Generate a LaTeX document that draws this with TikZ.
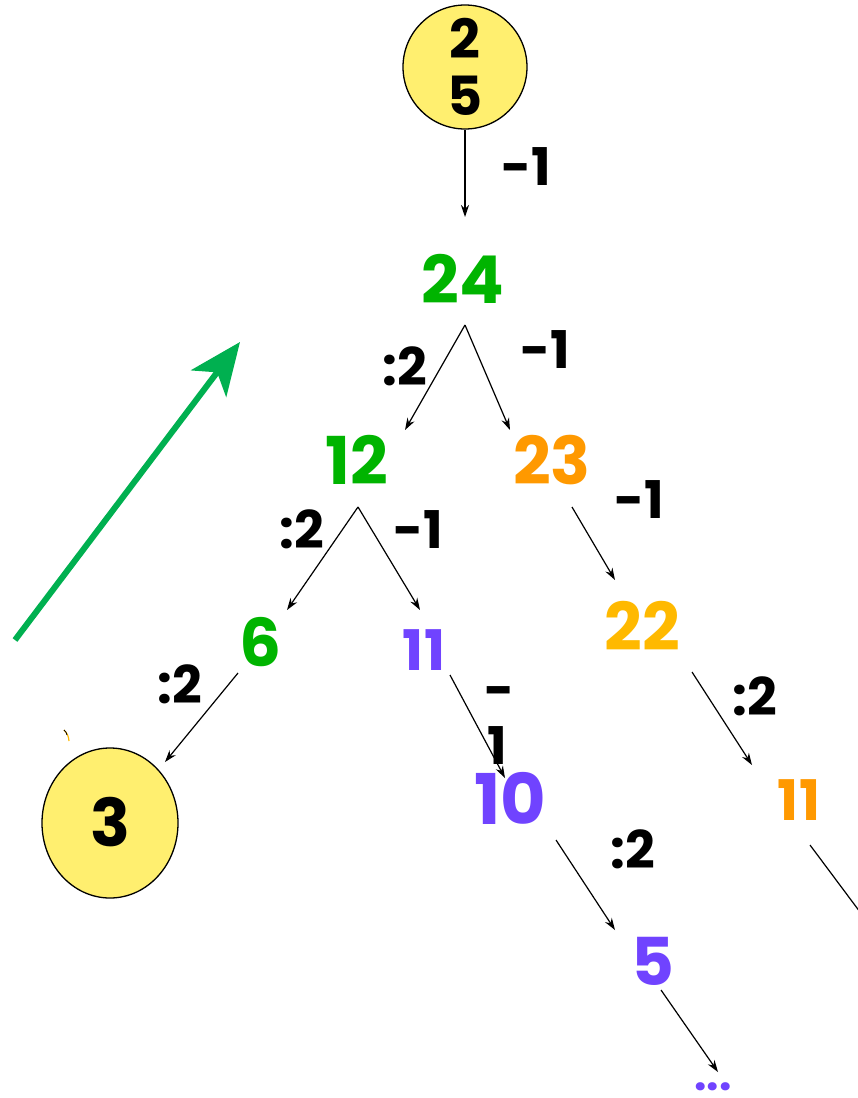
\documentclass[tikz,border=0pt]{standalone}
\usepackage{fontspec}
\setmainfont{Poppins}
\usetikzlibrary{arrows.meta,shapes.geometric}
\definecolor{cyel}{HTML}{FFEF6F}
\definecolor{cgrn}{HTML}{00B400}
\definecolor{corg}{HTML}{FF9900}
\definecolor{cgold}{HTML}{FFB900}
\definecolor{cpur}{HTML}{7043FF}
\definecolor{carr}{HTML}{00B050}
\begin{document}
\begin{tikzpicture}[x=1pt,y=-1pt,
  big/.style={font=\bfseries\fontsize{66}{66}\selectfont, inner sep=0pt, text height=47pt, text depth=0pt},
  mid/.style={font=\bfseries\fontsize{56}{56}\selectfont, inner sep=0pt, text height=40pt, text depth=0pt},
  lbl/.style={font=\bfseries\fontsize{52}{52}\selectfont, inner sep=0pt, text height=37pt, text depth=0pt},
  ball/.style={draw=black, line width=1.3pt, fill=cyel, inner sep=0pt},
  edge/.style={line width=1.2pt, -{Stealth[length=12pt,width=8pt]}},
  bare/.style={line width=1.2pt}]
\path[use as bounding box] (0,0) rectangle (858,1098);

% nodes
\node[ball, circle, minimum size=124pt, align=center,
      font=\bfseries\fontsize{54}{61}\selectfont] (n25) at (465,67) {2\\[-4pt]5};
\node[big, text=cgrn] (n24) at (463,280) {24};
\node[big, text=cgrn] (n12) at (357,461) {12};
\node[big, text=corg] (n23) at (552,461) {23};
\node[big, text=cgrn] (n6) at (261,643) {6};
\node[mid, text=cpur] (n11a) at (424,650) {11};
\node[big, text=cgold] (n22) at (642,627) {22};
\node[big, text=cpur, font=\bfseries\fontsize{70}{70}\selectfont, text height=50pt] (n10) at (510,799) {10};
\node[mid, text=corg] (n11b) at (799,800) {11};
\node[big, text=cpur] (n5) at (653,962) {5};
\node[font=\bfseries\fontsize{44}{44}\selectfont, text=cpur, inner sep=0pt, text height=6pt, text depth=0pt] (dots) at (713,1087) {...};
\node[ball, ellipse, minimum width=136pt, minimum height=150pt,
      font=\bfseries\fontsize{66}{66}\selectfont, text height=47pt, text depth=0pt] (n3) at (110,823) {3};

% edge end points
\coordinate (a0) at (465,130);  \coordinate (a1) at (465,217);
\coordinate (b0) at (465,325);  \coordinate (b1) at (405,430); \coordinate (b2) at (510,430);
\coordinate (c0) at (358,507);  \coordinate (c1) at (287,610); \coordinate (c2) at (420,610);
\coordinate (d0) at (572,507);  \coordinate (d1) at (615,580);
\coordinate (e0) at (238,673);  \coordinate (e1) at (165,762);
\coordinate (f0) at (450,675);  \coordinate (f1) at (505,778);
\coordinate (g0) at (692,672);  \coordinate (g1) at (752,765);
\coordinate (h0) at (556,840);  \coordinate (h1) at (615,930);
\coordinate (i0) at (661,990);  \coordinate (i1) at (718,1072);
\coordinate (j0) at (810,845);  \coordinate (j1) at (860,912);
\coordinate (k0) at (15,640);   \coordinate (k1) at (240,342);

% connectors
\draw[edge] (a0) -- (a1);
\draw[edge] (b0) -- (b1);
\draw[edge] (b0) -- (b2);
\draw[edge] (c0) -- (c1);
\draw[edge] (c0) -- (c2);
\draw[edge] (d0) -- (d1);
\draw[edge] (e0) -- (e1);
\draw[edge] (f0) -- (f1);
\draw[edge] (g0) -- (g1);
\draw[edge] (h0) -- (h1);
\draw[edge] (i0) -- (i1);
\draw[bare] (j0) -- (j1);
\draw[carr, line width=6pt, -{Stealth[length=52pt,width=44pt,inset=14pt]}] (k0) -- (k1);

% small stray mark
\draw[line width=1.2pt, cgold] (64,730) to[bend left=20] (69,741);
\draw[line width=0.8pt] (64,730) to[bend left=20] (67,735);

% labels
\node[lbl] (l1) at (526,167) {-1};
\node[lbl] (l2) at (405,367) {:2};
\node[lbl] (l3) at (545,350) {-1};
\node[lbl] (l4) at (302,530) {:2};
\node[lbl] (l5) at (418,530) {-1};
\node[lbl] (l6) at (639,500) {-1};
\node[lbl] (l7) at (180,685) {:2};
\node[lbl, text height=10pt] (l8a) at (500,703) {-};
\node[lbl] (l8b) at (497,746) {1};
\node[lbl] (l9) at (755,697) {:2};
\node[lbl] (l10) at (633,850) {:2};
\end{tikzpicture}
\end{document}
